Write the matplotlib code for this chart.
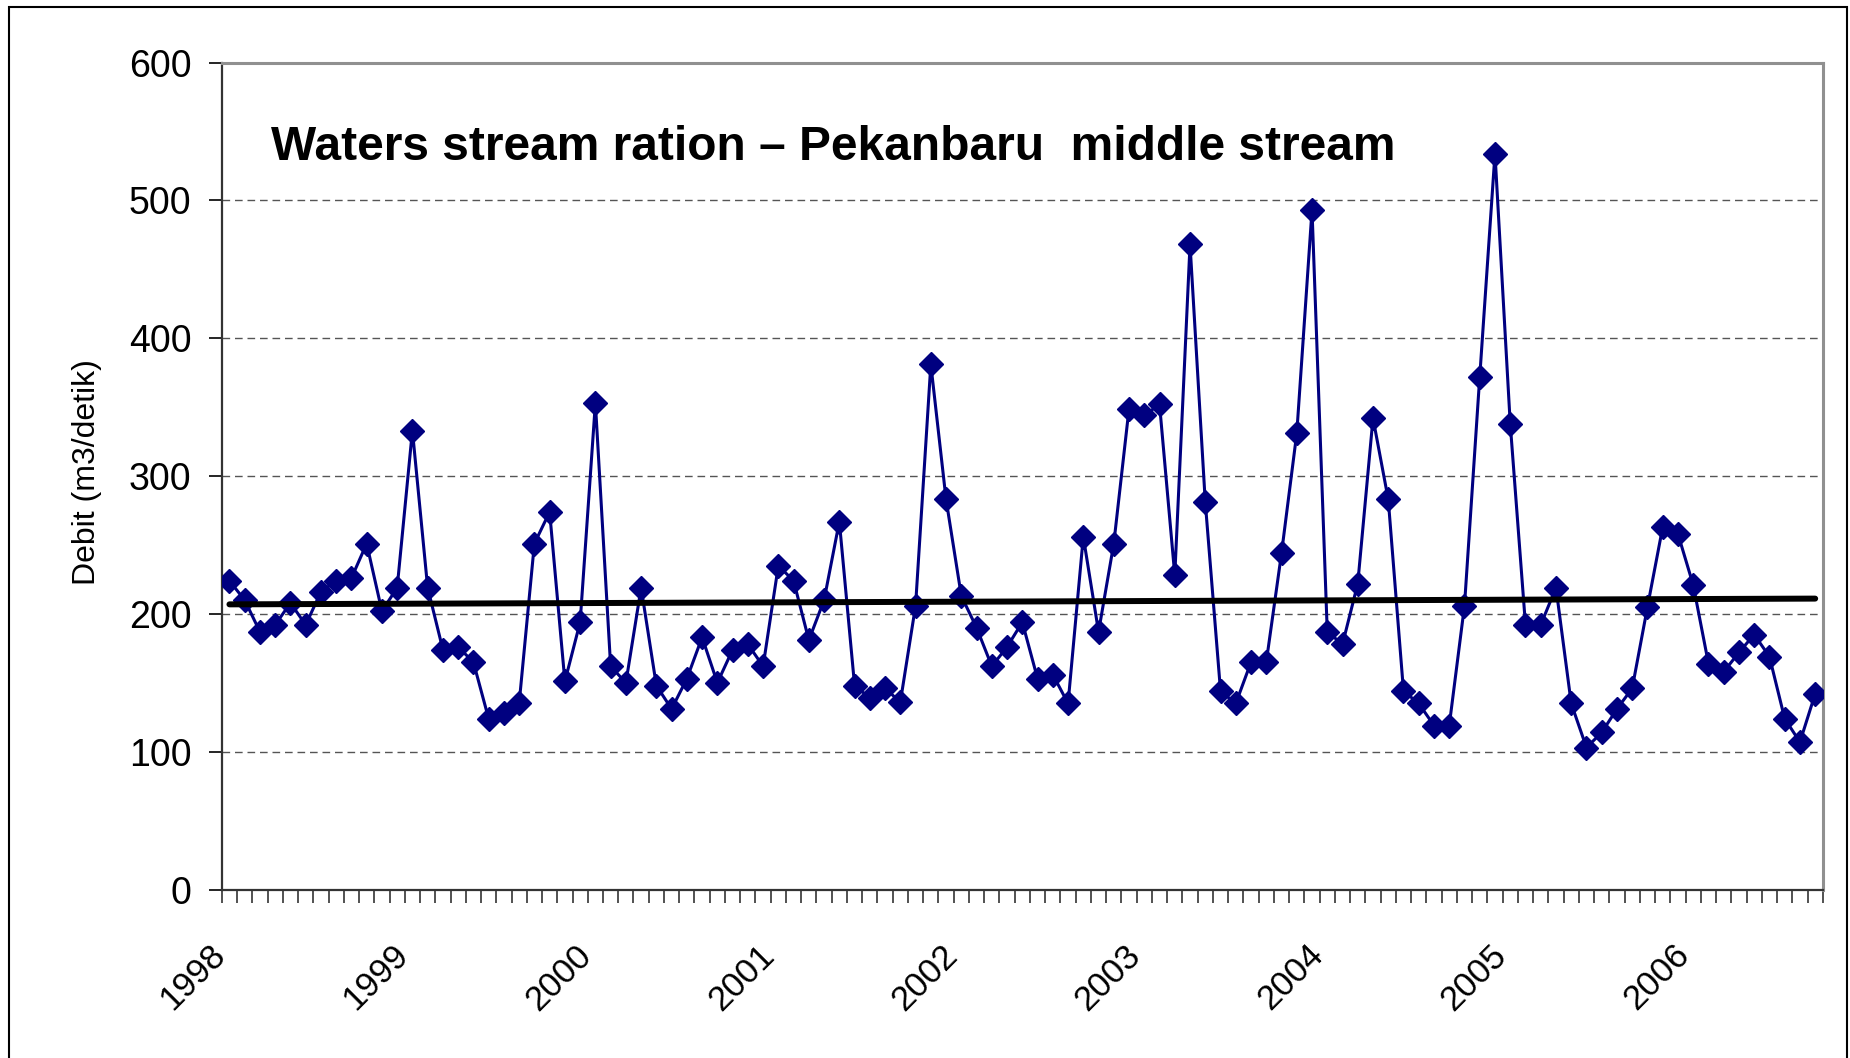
import numpy as np
import matplotlib
matplotlib.use('Agg')
import matplotlib.pyplot as plt
import matplotlib.transforms as mtransforms
from matplotlib.patches import Rectangle

plt.rcParams['font.family'] = ['Liberation Sans', 'DejaVu Sans']

# monthly debit values (m3/detik), Jan 1998 .. Sep 2006
debit = [224, 210, 187, 192, 208, 192, 216, 224, 226, 251, 202, 219,
         333, 219, 174, 176, 165, 124, 128, 135, 251, 274, 151, 194,
         353, 162, 150, 219, 148, 131, 153, 183, 150, 174, 178, 162,
         235, 224, 181, 210, 267, 148, 139, 146, 136, 206, 381, 283,
         213, 190, 162, 176, 194, 153, 156, 135, 256, 187, 251, 349,
         344, 352, 228, 468, 281, 144, 135, 165, 165, 244, 331, 493,
         187, 178, 222, 342, 283, 144, 135, 119, 119, 206, 372, 534,
         338, 192, 192, 219, 135, 103, 114, 131, 146, 205, 263, 258,
         221, 164, 158, 172, 185, 169, 124, 107, 142]
years = ['1998', '1999', '2000', '2001', '2002', '2003', '2004', '2005', '2006']

x = np.arange(len(debit))
trend = np.polyval(np.polyfit(x, debit, 1), x[[0, -1]])

fig = plt.figure(figsize=(18.5, 10.58), dpi=100)
ax = fig.add_axes([0.1199, 0.1592, 0.8654, 0.7817])

ax.plot(x, debit, color='#000080', lw=2.2, marker='D', ms=12.5, zorder=3)
ax.plot(x[[0, -1]], trend, color='black', lw=4.3, solid_capstyle='round', zorder=4)

ax.set_xlim(-0.5, len(debit) - 0.5)
ax.set_ylim(0, 600)
ax.set_yticks(np.arange(0, 601, 100))
ax.yaxis.grid(True, color='#555555', lw=1.0, linestyle=(0, (5.5, 3.5)))
ax.set_axisbelow(True)

ax.set_xticks(np.arange(0, len(debit), 12))
ax.set_xticklabels(years, rotation=45, ha='right', va='center', rotation_mode='anchor')
ax.set_xticks(np.arange(-0.5, len(debit), 1), minor=True)
ax.tick_params(axis='x', which='major', length=0, pad=43.5, labelsize=25)
ax.tick_params(axis='x', which='minor', length=9.5, width=1.2, color='#333333')
ax.tick_params(axis='y', length=9.5, width=1.2, pad=12.5, labelsize=27)
shift = mtransforms.ScaledTranslation(-9 / 100, 0, fig.dpi_scale_trans)
for lab in ax.get_xticklabels():
    lab.set_transform(lab.get_transform() + shift)

for s in ['left', 'bottom']:
    ax.spines[s].set_color('#333333')
    ax.spines[s].set_linewidth(1.6)
for s in ['top', 'right']:
    ax.spines[s].set_color('#909090')
    ax.spines[s].set_linewidth(2.2)

ax.set_ylabel('Debit (m3/detik)', fontsize=23, va='center')
ax.yaxis.set_label_coords(-0.0842, 0.505)

ax.text(0.0307, 0.882, 'Waters stream ration \u2013 Pekanbaru  middle stream',
        transform=ax.transAxes, fontsize=34.5, fontweight='bold', ha='left', va='baseline')

fig.patches.append(Rectangle((9 / 1850, -0.02), 1838 / 1850, 1.02 - 7 / 1058,
                             transform=fig.transFigure, fill=False, ec='black', lw=1.5))

fig.savefig('out.png', dpi=100)
